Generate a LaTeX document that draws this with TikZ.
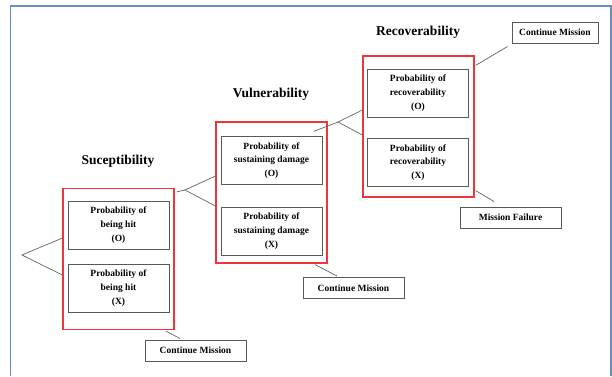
\documentclass[tikz,border=0pt]{standalone}
\usepackage{fontspec}
\setmainfont{Liberation Serif}
\usetikzlibrary{positioning}
\definecolor{framecol}{RGB}{104,142,196}
\definecolor{riskred}{RGB}{240,52,60}
\definecolor{boxgray}{RGB}{88,88,88}
\definecolor{linkgray}{RGB}{100,100,100}
\tikzset{
  probbox/.style={draw=boxgray,line width=1pt,minimum width=101pt,minimum height=48pt,inner sep=0pt,align=center,font=\fontsize{9.5}{13.7}\selectfont\bfseries},
  riskframe/.style={draw=riskred,line width=1.2pt,minimum width=111pt,minimum height=141pt,inner sep=0pt},
  outcome/.style={draw=boxgray,line width=1pt,minimum width=101pt,minimum height=21pt,inner sep=0pt,font=\fontsize{9.5}{11}\selectfont\bfseries},
  stagetitle/.style={font=\fontsize{13.5}{16}\selectfont\bfseries},
  link/.style={draw=linkgray,line width=0.7pt}
}

\begin{document}
\begin{tikzpicture}[x=1pt,y=-1pt]
\useasboundingbox (0,0) rectangle (612,376);
\draw[framecol,line width=1.3pt] (10.5,376) -- (10.5,6) -- (611,6) -- (611,376);

% susceptibility
\node[stagetitle] (titleS) at (118,161) {Suceptibility};
\node[riskframe] (rbS) at (118.5,259) {};
\node[probbox] (hitO) at (118.5,225) {Probability of\\being hit\\(O)};
\node[probbox] (hitX) at (118.5,288) {Probability of\\being hit\\(X)};
\node[outcome] (contS) at (195.5,350.5) {Continue Mission};

% vulnerability
\node[stagetitle] (titleV) at (271,94) {Vulnerability};
\node[riskframe] (rbV) at (271.5,192.5) {};
\node[probbox] (dmgO) at (271.5,160.5) {Probability of\\sustaining damage\\(O)};
\node[probbox] (dmgX) at (271.5,231) {Probability of\\sustaining damage\\(X)};
\node[outcome] (contV) at (353.5,288) {Continue Mission};

% recoverability
\node[stagetitle] (titleR) at (418,32) {Recoverability};
\node[riskframe] (rbR) at (418.5,126.5) {};
\node[probbox] (recO) at (418,93) {Probability of\\recoverability\\(O)};
\node[probbox] (recX) at (418,162.5) {Probability of\\recoverability\\(X)};
\node[outcome,minimum width=86pt] (contR) at (555,32.5) {Continue Mission};
\node[outcome] (fail) at (510.5,217.5) {Mission Failure};

% branches
\coordinate (forkS) at (22,255);
\coordinate (forkV) at (185,190);
\coordinate (forkR) at (338,122);
\draw[link] ([yshift=21pt]rbS.west) -- (forkS) -- ([yshift=-16pt]rbS.west);
\draw[link] ([xshift=2pt,yshift=-4pt]rbS.north east) -- (forkV);
\draw[link] ([yshift=16.5pt]rbV.west) -- (forkV) -- ([yshift=-13.5pt]rbV.west);
\draw[link] ([xshift=-14pt,yshift=-10pt]rbV.north east) -- (forkR);
\draw[link] ([yshift=16.5pt]rbR.west) -- (forkR) -- ([yshift=-8.5pt]rbR.west);

% outcomes
\draw[link] ([xshift=47.5pt,yshift=-1pt]rbS.south) -- ([xshift=-15.5pt,yshift=1pt]contS.north);
\draw[link] ([xshift=43.5pt,yshift=-1pt]rbV.south) -- ([xshift=-16.5pt,yshift=1pt]contV.north);
\draw[link] ([xshift=1pt,yshift=-10pt]rbR.north east) -- ([xshift=-4pt,yshift=-3pt]contR.south west);
\draw[link] ([xshift=1pt,yshift=7pt]rbR.south east) -- ([xshift=-16.5pt,yshift=5pt]fail.north);
\end{tikzpicture}
\end{document}
